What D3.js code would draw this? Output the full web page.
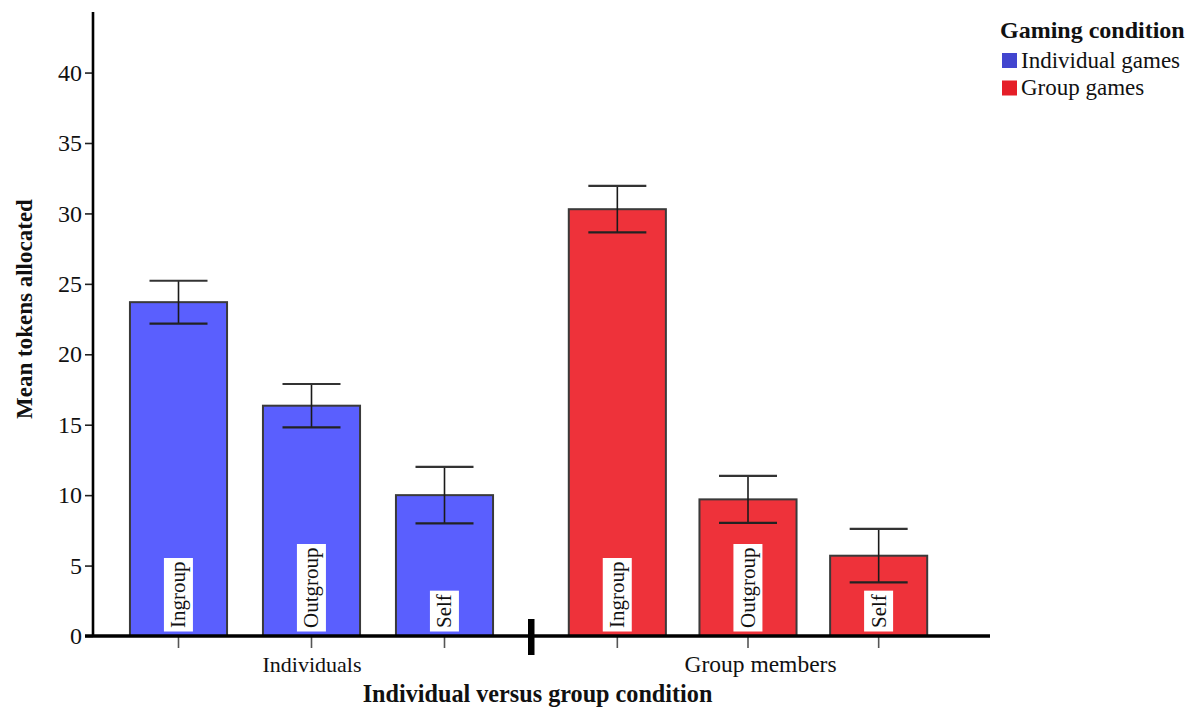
<!DOCTYPE html>
<html>
<head>
<meta charset="utf-8">
<script src="https://cdn.jsdelivr.net/npm/d3@7"></script>
<style>
  html, body { margin: 0; padding: 0; background: #fff; }
  svg { display: block; }
  text { font-family: "Liberation Serif", "Times New Roman", serif; fill: #111; }
</style>
</head>
<body>
<svg id="chart" width="1193" height="709"></svg>
<script>
// Mean tokens allocated, by recipient, for each gaming condition
const categories = ["Ingroup", "Outgroup", "Self"];
const groups = ["Individuals", "Group members"];
const seriesNames = ["Individual games", "Group games"];

const individualMeans = [23.7, 16.35, 10.0];
const individualErrors = [1.52, 1.54, 2.0];
const groupMeans = [30.3, 9.7, 5.7];
const groupErrors = [1.65, 1.67, 1.9];

const yTicks = [0, 5, 10, 15, 20, 25, 30, 35, 40];

const barColors = ["#5a5ffe", "#ee323a"];
const legendColors = ["#4245cf", "#e51e28"];

const svg = d3.select("#chart");

// Scales
const y = d3.scaleLinear().domain([0, 44.3]).range([636, 12]);

const panels = [
  { x0: 93, x1: 531, range: [112, 511], inner: 0.27, outer: 0.135,
    means: individualMeans, errors: individualErrors, color: barColors[0], label: groups[0], size: 22 },
  { x0: 531, x1: 990, range: [552, 944], inner: 0.257, outer: 0.1285,
    means: groupMeans, errors: groupErrors, color: barColors[1], label: groups[1], size: 23.5 }
];
panels.forEach(p => {
  p.x = d3.scaleBand().domain(categories).range(p.range)
    .paddingInner(p.inner).paddingOuter(p.outer);
});

// Bars, error bars and in-bar labels
panels.forEach(p => {
  const g = svg.append("g");
  const rows = categories.map((c, i) => ({ cat: c, mean: p.means[i], err: p.errors[i] }));

  g.selectAll("rect.bar").data(rows).join("rect")
    .attr("class", "bar")
    .attr("x", d => p.x(d.cat))
    .attr("y", d => y(d.mean))
    .attr("width", p.x.bandwidth())
    .attr("height", d => y(0) - y(d.mean))
    .attr("fill", p.color)
    .attr("stroke", "#3a3a3a")
    .attr("stroke-width", 2);

  const capHalf = 29;
  const eb = g.selectAll("g.err").data(rows).join("g").attr("class", "err")
    .attr("transform", d => `translate(${p.x(d.cat) + p.x.bandwidth() / 2},0)`);
  eb.append("line")
    .attr("y1", d => y(d.mean + d.err)).attr("y2", d => y(d.mean - d.err))
    .attr("stroke", "#1a1a1a").attr("stroke-width", 1.6);
  eb.append("line")
    .attr("x1", -capHalf).attr("x2", capHalf)
    .attr("y1", d => y(d.mean + d.err)).attr("y2", d => y(d.mean + d.err))
    .attr("stroke", "#333").attr("stroke-width", 2.2);
  eb.append("line")
    .attr("x1", -capHalf).attr("x2", capHalf)
    .attr("y1", d => y(d.mean - d.err)).attr("y2", d => y(d.mean - d.err))
    .attr("stroke", "#222").attr("stroke-width", 2.2);

  // rotated category labels in white boxes at the foot of each bar
  const lab = g.selectAll("g.lab").data(rows).join("g").attr("class", "lab")
    .attr("transform", d => `translate(${p.x(d.cat) + p.x.bandwidth() / 2},${y(0) - 8}) rotate(-90)`);
  lab.append("rect").attr("fill", "#fff");
  lab.append("text")
    .attr("x", 0).attr("y", 0)
    .attr("dy", "0.33em")
    .attr("font-size", 21)
    .text(d => d.cat);
  lab.each(function () {
    const t = d3.select(this).select("text").node().getBBox();
    d3.select(this).select("rect")
      .attr("x", t.x - 3.5).attr("y", t.y - 2.5)
      .attr("width", t.width + 7).attr("height", t.height + 5);
  });

  // ticks under the x axis at each bar centre
  g.selectAll("line.xt").data(rows).join("line").attr("class", "xt")
    .attr("x1", d => p.x(d.cat) + p.x.bandwidth() / 2)
    .attr("x2", d => p.x(d.cat) + p.x.bandwidth() / 2)
    .attr("y1", y(0)).attr("y2", y(0) + 12)
    .attr("stroke", "#555").attr("stroke-width", 1.6);

  // group label centred in its panel
  svg.append("text")
    .attr("x", (p.x0 + p.x1) / 2).attr("y", 672)
    .attr("text-anchor", "middle")
    .attr("font-size", p.size)
    .text(p.label);
});

// Y axis
const yAxis = d3.axisLeft(y).tickValues(yTicks).tickSize(8).tickPadding(3);
const ya = svg.append("g").attr("transform", "translate(93,0)").call(yAxis);
ya.select(".domain").remove();
ya.selectAll(".tick line").attr("stroke", "#222").attr("stroke-width", 1.6);
ya.selectAll(".tick text")
  .attr("font-family", "Liberation Serif, serif")
  .attr("font-size", 24).attr("fill", "#222");
svg.append("line")
  .attr("x1", 93).attr("x2", 93).attr("y1", y.range()[1]).attr("y2", y(0))
  .attr("stroke", "#000").attr("stroke-width", 2.6);

// X axis baseline and panel break
svg.append("line")
  .attr("x1", 85).attr("x2", 990).attr("y1", y(0)).attr("y2", y(0))
  .attr("stroke", "#000").attr("stroke-width", 3.6);
svg.append("rect")
  .attr("x", 528).attr("y", 619).attr("width", 6.5).attr("height", 36)
  .attr("fill", "#000");

// Axis titles
svg.append("text")
  .attr("transform", `translate(32,${(200 + 418) / 2}) rotate(-90)`)
  .attr("text-anchor", "middle")
  .attr("font-weight", "bold").attr("font-size", 23)
  .text("Mean tokens allocated");
svg.append("text")
  .attr("x", 537.5).attr("y", 702)
  .attr("text-anchor", "middle")
  .attr("font-weight", "bold").attr("font-size", 24.2)
  .text("Individual versus group condition");

// Legend
const legend = svg.append("g").attr("transform", "translate(1000,0)");
legend.append("text")
  .attr("x", 0).attr("y", 38)
  .attr("font-weight", "bold").attr("font-size", 24)
  .text("Gaming condition");
const items = legend.selectAll("g.item").data(seriesNames).join("g").attr("class", "item")
  .attr("transform", (d, i) => `translate(0,${i * 27.5})`);
items.append("rect")
  .attr("x", 2).attr("y", 53).attr("width", 15).attr("height", 15)
  .attr("fill", (d, i) => legendColors[i]);
items.append("text")
  .attr("x", 21).attr("y", 67.5)
  .attr("font-size", 23)
  .text(d => d);
</script>
</body>
</html>
